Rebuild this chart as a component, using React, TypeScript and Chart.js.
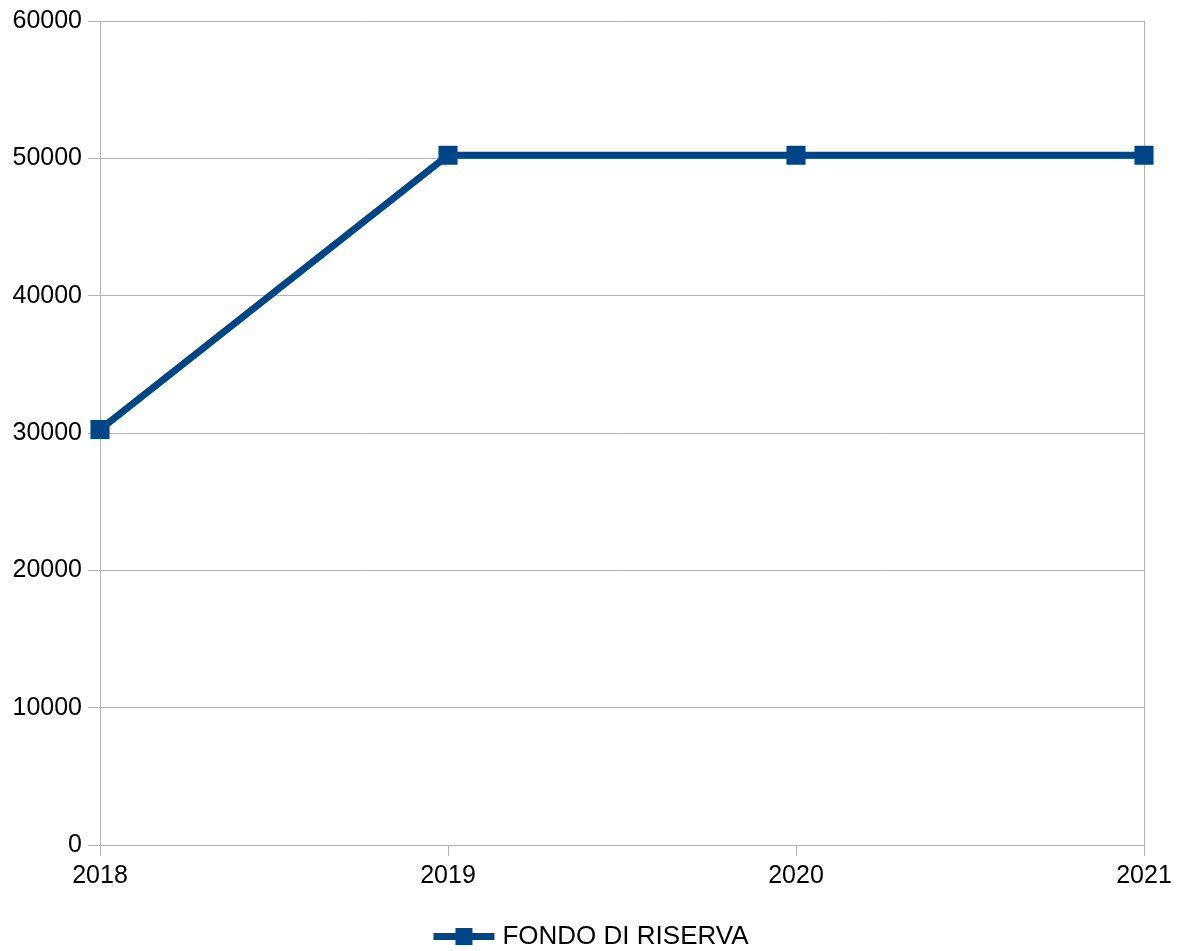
import React, { useEffect, useRef } from "react";
import { Chart, registerables } from "chart.js";

Chart.register(...registerables);

const categories = ["2018", "2019", "2020", "2021"];
const seriesName = "FONDO DI RISERVA";
const seriesValues = [30250, 50230, 50230, 50230];
const yTicks = [0, 10000, 20000, 30000, 40000, 50000, 60000];

const SERIES_COLOR = "#004586";
const GRID_COLOR = "#b3b3b3";
const FONT = "'Liberation Sans', Arial, sans-serif";
const FONT_SIZE = 25;
const LEGEND_FONT_SIZE = 26;

const legendPlugin = {
  id: "customLegend",
  afterDraw(chart: any) {
    const ctx = chart.ctx as CanvasRenderingContext2D;
    ctx.save();
    ctx.font = `${LEGEND_FONT_SIZE}px ${FONT}`;
    const textW = ctx.measureText(seriesName).width;
    const lineW = 61;
    const gap = 8;
    const total = lineW + gap + textW;
    const startX = 591 - total / 2;
    const y = 936.5;
    ctx.strokeStyle = SERIES_COLOR;
    ctx.lineWidth = 7;
    ctx.beginPath();
    ctx.moveTo(startX, y);
    ctx.lineTo(startX + lineW, y);
    ctx.stroke();
    ctx.fillStyle = SERIES_COLOR;
    ctx.fillRect(startX + lineW / 2 - 8.5, y - 8.5, 17, 17);
    ctx.fillStyle = "#000000";
    ctx.textBaseline = "middle";
    ctx.textAlign = "left";
    ctx.fillText(seriesName, startX + lineW + gap, y);
    ctx.restore();
  },
};

export default function App() {
  const ref = useRef<HTMLCanvasElement | null>(null);
  useEffect(() => {
    if (!ref.current) return;
    const chart = new Chart(ref.current, {
      type: "line",
      data: {
        labels: categories,
        datasets: [
          {
            label: seriesName,
            data: seriesValues,
            borderColor: SERIES_COLOR,
            backgroundColor: SERIES_COLOR,
            borderWidth: 7,
            pointStyle: "rect",
            pointRadius: 13.5,
            pointHoverRadius: 13.5,
            pointBorderWidth: 0,
            pointBackgroundColor: SERIES_COLOR,
            tension: 0,
          },
        ],
      },
      options: {
        animation: false,
        responsive: false,
        maintainAspectRatio: false,
        layout: { padding: { left: 0, right: 38, top: 18, bottom: 50 } },
        plugins: {
          legend: { display: false },
          tooltip: { enabled: false },
        },
        scales: {
          x: {
            offset: false,
            grid: {
              color: (c: any) =>
                c.index === 0 || c.index === categories.length - 1 ? GRID_COLOR : "rgba(0,0,0,0)",
              tickColor: GRID_COLOR,
              lineWidth: 1,
              tickLength: 11,
              drawTicks: true,
            },
            border: { color: GRID_COLOR, width: 1 },
            ticks: {
              color: "#000000",
              font: { family: FONT, size: FONT_SIZE },
              padding: 5,
              maxRotation: 0,
            },
            afterFit(scale: any) {
              scale.height = 951 - 845 - 50;
            },
          },
          y: {
            min: 0,
            max: 60000,
            afterBuildTicks(scale: any) {
              scale.ticks = yTicks.map((v) => ({ value: v }));
            },
            grid: {
              color: GRID_COLOR,
              lineWidth: 1,
              tickLength: 12,
            },
            border: { color: GRID_COLOR, width: 1 },
            ticks: {
              color: "#000000",
              font: { family: FONT, size: FONT_SIZE },
              padding: 6,
              callback: (v: any) => String(v),
            },
            afterFit(scale: any) {
              scale.width = 100;
            },
          },
        },
      },
      plugins: [legendPlugin],
    });
    return () => chart.destroy();
  }, []);
  return (
    <div style={{ position: "fixed", left: 0, top: 0, width: 1182, height: 951, background: "#fff" }}>
      <canvas ref={ref} width={1182} height={951} style={{ width: 1182, height: 951, display: "block" }} />
    </div>
  );
}
